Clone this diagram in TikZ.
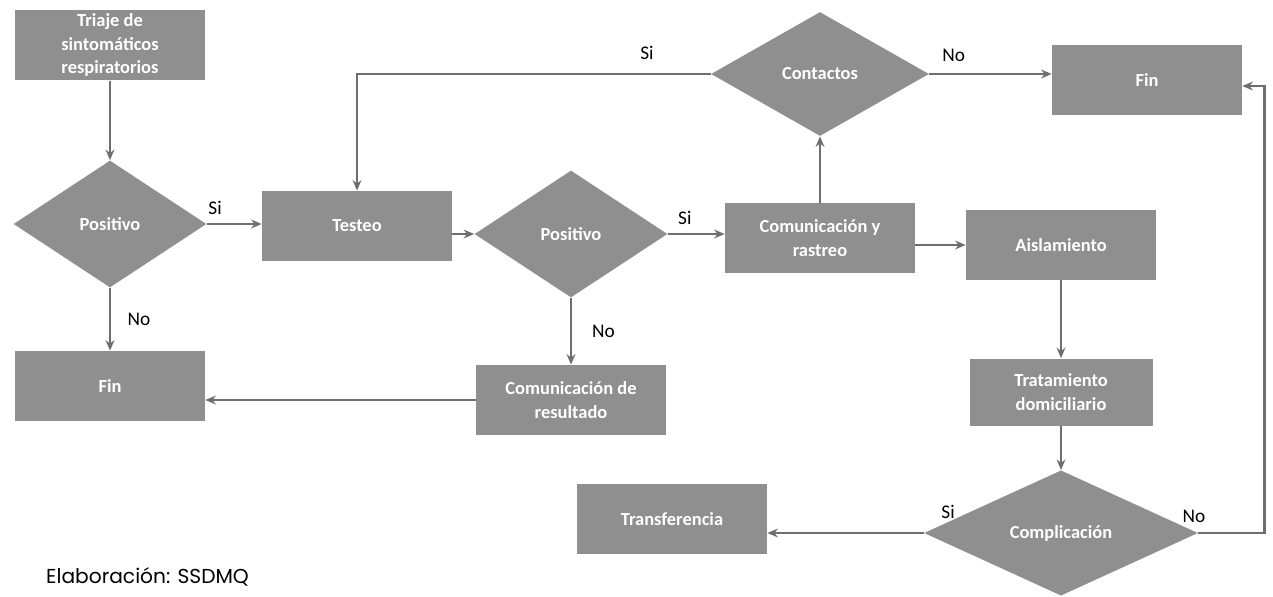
\documentclass[tikz,border=0pt]{standalone}
\usepackage{fontspec}
\setmainfont{Carlito}
\newfontfamily\credfont{Poppins}
\usetikzlibrary{calc}
\usetikzlibrary{shapes.geometric}
\usetikzlibrary{arrows.meta}
\usetikzlibrary{positioning}

\definecolor{boxgray}{RGB}{143,143,143}
\definecolor{linegray}{RGB}{110,110,110}

\begin{document}
\begin{tikzpicture}[x=0.02cm, y=-0.02cm, >={Stealth[length=6pt,width=5pt]},
    every node/.style={font=\fontsize{10.5}{13.5}\selectfont},
    stepbox/.style={fill=boxgray, text=white, font=\bfseries\fontsize{10.5}{13.5}\selectfont,
        align=center, minimum width=3.8cm, minimum height=1.4cm, inner sep=2pt},
    decide/.style={diamond, fill=boxgray, text=white, font=\bfseries\fontsize{10.5}{13.5}\selectfont,
        minimum width=3.86cm, minimum height=2.54cm, inner sep=1pt},
    link/.style={->, line width=1.5pt, draw=linegray},
    lbl/.style={text=black, font=\fontsize{11}{12}\selectfont}]

\useasboundingbox (0,0) rectangle (1273,596);

% --- LEFT BRANCH: TRIAGE ---
\node[stepbox] (tri) at (110,45) {Triaje de\\sintomáticos\\respiratorios};
\node[decide] (pos1) at (110,224) {Positivo};
\node[stepbox] (fin1) at (110,386) {Fin};

% --- MIDDLE ROW: TEST AND TRACING ---
\node[stepbox] (test) at (357,226) {Testeo};
\node[decide] (pos2) at (571,234) {Positivo};
\node[stepbox] (comres) at (571,400) {Comunicación de\\resultado};
\node[stepbox] (com) at (820,238) {Comunicación y\\rastreo};
\node[decide, minimum width=4.36cm, minimum height=2.48cm] (cont) at (820,74) {Contactos};
\node[stepbox] (fin2) at (1147,80) {Fin};

% --- RIGHT BRANCH: ISOLATION ---
\node[stepbox] (aisl) at (1061,245) {Aislamiento};
\node[stepbox, minimum width=3.66cm, minimum height=1.34cm] (trat) at (1061,392) {Tratamiento\\domiciliario};
\node[decide, minimum width=5.48cm, minimum height=2.5cm] (comp) at (1061,533) {Complicación};
\node[stepbox] (trans) at (672,519) {Transferencia};

% Connectors
\draw[link] (tri) -- (pos1);
\draw[link] (pos1.east) -- (test.west |- pos1.east)
    node[lbl, pos=0.15, above=1pt] {Si};
\draw[link] (pos1.south) -- (fin1.north)
    node[lbl, midway, right=6pt] {No};
\draw[link] (test.east |- pos2.west) -- (pos2.west);
\draw[link] (pos2.east) -- (com.west |- pos2.east)
    node[lbl, pos=0.3, above=1pt] {Si};
\draw[link] (pos2.south) -- (comres.north)
    node[lbl, midway, right=8pt] {No};
\draw[link] (comres.west) -- (fin1.east |- comres.west);
\draw[link] (com.north) -- (cont.south);
\draw[link] (cont.west) -| (test.north)
    node[lbl, pos=0.09, above=4pt] {Si};
\draw[link] (cont.east) -- (fin2.west |- cont.east)
    node[lbl, pos=0.2, above=3pt] {No};
\draw[link] (com.east |- aisl.west) -- (aisl.west);
\draw[link] (aisl.south) -- (trat.north);
\draw[link] (trat.south) -- (comp.north);
\draw[link] (comp.west) -- (trans.east |- comp.west)
    node[lbl, pos=0, above right=4pt and 6pt] {Si};
\draw[link] (comp.east) node[lbl, above left=2pt and -8pt] {No}
    -- ++(66,0) |- ($(fin2.east)+(0,6)$);

\node[anchor=west, font=\credfont\fontsize{11.5}{13}\selectfont] (cred) at (40,577) {Elaboración: SSDMQ};

\end{tikzpicture}
\end{document}
